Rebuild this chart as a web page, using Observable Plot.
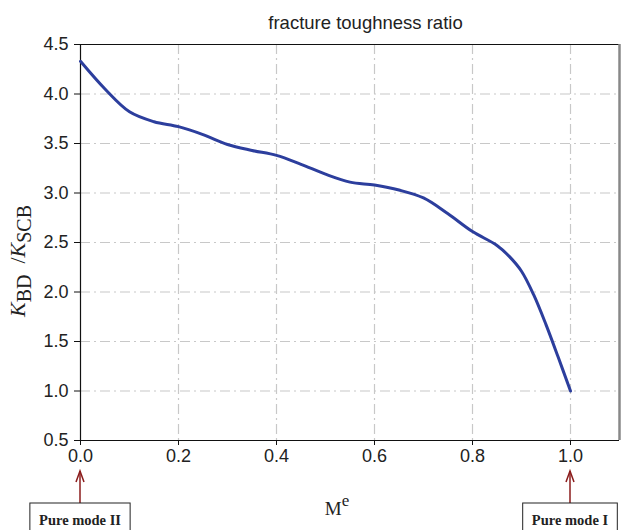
<!DOCTYPE html>
<html>
<head>
<meta charset="utf-8">
<script src="https://cdn.jsdelivr.net/npm/d3@7"></script>
<script src="https://cdn.jsdelivr.net/npm/@observablehq/plot@0.6"></script>
<style>
  html, body { margin: 0; padding: 0; background: #fff; }
</style>
</head>
<body>
<div id="chart"></div>
<script>
// Data
const mixity = [0, 0.05, 0.1, 0.15, 0.2, 0.25, 0.3, 0.35, 0.4, 0.45, 0.5, 0.55, 0.6, 0.65, 0.7, 0.75, 0.8, 0.85, 0.875, 0.9, 0.925, 0.95, 0.975, 1.0];
const ratio  = [4.33, 4.05, 3.82, 3.72, 3.67, 3.59, 3.49, 3.43, 3.38, 3.29, 3.19, 3.11, 3.08, 3.03, 2.95, 2.79, 2.61, 2.47, 2.36, 2.21, 1.97, 1.67, 1.34, 1.0];
const xTicks = [0, 0.2, 0.4, 0.6, 0.8, 1.0];
const yTicks = [0.5, 1.0, 1.5, 2.0, 2.5, 3.0, 3.5, 4.0, 4.5];
const xGrid = [0.2, 0.4, 0.6, 0.8, 1.0];
const yGrid = [1.0, 1.5, 2.0, 2.5, 3.0, 3.5, 4.0];
const titleText = "fracture toughness ratio";
const annotations = [
  {x: 0.0, label: "Pure mode II"},
  {x: 1.0, label: "Pure mode I"}
];

const data = mixity.map((m, i) => ({m, r: ratio[i]}));
const fmt = d3.format(".1f");

const plot = Plot.plot({
  width: 622,
  height: 530,
  marginLeft: 80,
  marginRight: 3,
  marginTop: 44,
  marginBottom: 90,
  style: {fontFamily: "'Liberation Sans', Arial, sans-serif", fontSize: "18px", color: "#222", background: "#fff"},
  x: {domain: [0, 1.1]},
  y: {domain: [0.5, 4.5]},
  marks: [
    Plot.gridX(xGrid, {stroke: "#c8c8c8", strokeOpacity: 1, strokeWidth: 1.2, strokeDasharray: "10,4,2,4"}),
    Plot.gridY(yGrid, {stroke: "#c8c8c8", strokeOpacity: 1, strokeWidth: 1.2, strokeDasharray: "10,4,2,4"}),
    Plot.ruleY([4.5], {stroke: "#111", strokeWidth: 1.2}),
    Plot.ruleX([1.1], {stroke: "#888", strokeWidth: 2.5}),
    Plot.ruleX([0], {stroke: "#111", strokeWidth: 1.2}),
    Plot.ruleY([0.5], {stroke: "#111", strokeWidth: 1.2}),
    Plot.line(data, {x: "m", y: "r", stroke: "#2c3e9d", strokeWidth: 3, curve: "catmull-rom"}),
    Plot.axisX({ticks: xTicks, tickFormat: fmt, tickSize: 5, tickPadding: 4, label: null, fontSize: 18, stroke: "#111", fill: "#222"}),
    Plot.axisY({ticks: yTicks, tickFormat: fmt, tickSize: 6, tickPadding: 6, label: null, fontSize: 18, stroke: "#111", fill: "#222"})
  ]
});

document.getElementById("chart").appendChild(plot);

const svg = d3.select(plot);
const xs = plot.scale("x");
const x0 = xs.apply(0), x1 = xs.apply(1.1);

// Title
svg.append("text")
  .attr("x", (x0 + x1) / 2 + 16).attr("y", 29)
  .attr("text-anchor", "middle")
  .style("font-family", "'Liberation Sans', Arial, sans-serif")
  .style("font-size", "18.5px").attr("fill", "#222")
  .text(titleText);

// Y label
const yl = svg.append("text")
  .attr("transform", `translate(25,261) rotate(-90)`)
  .attr("text-anchor", "middle")
  .style("font-family", "'Liberation Serif', 'Times New Roman', serif")
  .style("font-size", "22px").attr("fill", "#222");
yl.append("tspan").attr("font-style", "italic").text("K");
yl.append("tspan").attr("dy", 6).style("font-size", "20px").text("BD");
yl.append("tspan").attr("dy", -6).text("\u00a0 /");
yl.append("tspan").attr("font-style", "italic").text("K");
yl.append("tspan").attr("dy", 6).style("font-size", "20px").text("SCB");

// X label
const xl = svg.append("text")
  .attr("x", 337).attr("y", 515)
  .attr("text-anchor", "middle")
  .style("font-family", "'Liberation Serif', 'Times New Roman', serif")
  .style("font-size", "19px").attr("fill", "#222");
xl.append("tspan").text("M");
xl.append("tspan").attr("dy", -9).style("font-size", "17px").text("e");

// Annotations
annotations.forEach(a => {
  const px = xs.apply(a.x);
  const g = svg.append("g");
  g.append("line").attr("x1", px).attr("x2", px).attr("y1", 503).attr("y2", 471)
    .attr("stroke", "#8b1c1c").attr("stroke-width", 1.5);
  g.append("path").attr("d", `M${px - 4},${482} L${px},${471} L${px + 4},${482}`)
    .attr("fill", "none").attr("stroke", "#8b1c1c").attr("stroke-width", 1.5);
  const rect = g.append("rect");
  const t = g.append("text")
    .attr("x", px).attr("y", 525)
    .attr("text-anchor", "middle")
    .style("font-family", "'Liberation Serif', 'Times New Roman', serif")
    .style("font-size", "14.5px").style("font-weight", "bold").attr("fill", "#222")
    .text(a.label);
  const bb = t.node().getBBox();
  const bw = bb.width + 18;
  rect.attr("x", px - bw / 2).attr("y", 503).attr("width", bw).attr("height", 30)
    .attr("fill", "#fff").attr("stroke", "#222").attr("stroke-width", 1);
});
</script>
</body>
</html>
